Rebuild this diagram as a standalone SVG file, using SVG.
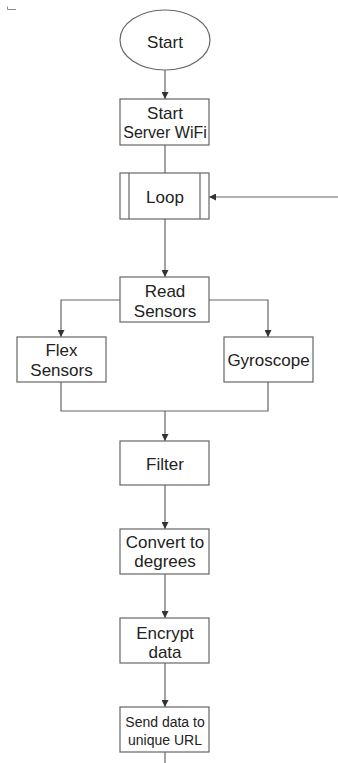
<svg xmlns="http://www.w3.org/2000/svg" width="338" height="763" viewBox="0 0 338 763">
<defs>
<marker id="ah" viewBox="0 0 8 8" refX="8" refY="4" markerWidth="7" markerHeight="7" markerUnits="userSpaceOnUse" orient="auto">
<path d="M0,0 L8,4 L0,8 z" fill="#333"/>
</marker>
<style>
.n{fill:#fff;stroke:#666;stroke-width:1.2}
.t{font-family:"Liberation Sans",Arial,sans-serif;font-size:17px;fill:#222;text-anchor:middle}
.s{font-size:14px}
.c{fill:none;stroke:#666;stroke-width:1.2}
.a{marker-end:url(#ah)}
</style>
</defs>
<rect width="338" height="763" fill="#fff"/>
<path d="M7.5,6.5 V9.5 H16" fill="none" stroke="#888" stroke-width="1"/>
<g id="connectors">
<path class="c a" d="M165,70 V99"/>
<path class="c" d="M165,145 V173"/>
<path class="c a" d="M338,197 H209"/>
<path class="c a" d="M165,219 V277"/>
<path class="c a" d="M120,300 H61 V337"/>
<path class="c a" d="M209,300 H268 V337"/>
<path class="c" d="M61,382 V411 H268 V382"/>
<path class="c a" d="M165,411 V441"/>
<path class="c a" d="M165,485 V529"/>
<path class="c a" d="M165,574 V618"/>
<path class="c a" d="M165,663 V707"/>
<path class="c" d="M165,752 V763"/>
</g>
<g id="start">
<ellipse class="n" cx="165" cy="40" rx="45" ry="30"/>
<text class="t" x="165" y="48">Start</text>
</g>
<g id="wifi">
<rect class="n" x="120" y="99" width="89" height="46"/>
<text class="t" x="165" y="119">Start</text>
<text class="t" x="165" y="138" style="font-size:16px">Server WiFi</text>
</g>
<g id="loop">
<rect class="n" x="120" y="173" width="89" height="46"/>
<path class="c" d="M129,173 V219 M200,173 V219"/>
<text class="t" x="165" y="203">Loop</text>
</g>
<g id="read">
<rect class="n" x="120" y="277" width="89" height="45"/>
<text class="t" x="165" y="297">Read</text>
<text class="t" x="165" y="317">Sensors</text>
</g>
<g id="flex">
<rect class="n" x="17" y="337" width="89" height="45"/>
<text class="t" x="61.5" y="356">Flex</text>
<text class="t" x="61.5" y="376">Sensors</text>
</g>
<g id="gyro">
<rect class="n" x="224" y="337" width="89" height="45"/>
<text class="t" x="268.5" y="366">Gyroscope</text>
</g>
<g id="filter">
<rect class="n" x="120" y="441" width="89" height="44"/>
<text class="t" x="165" y="470">Filter</text>
</g>
<g id="convert">
<rect class="n" x="120" y="529" width="89" height="45"/>
<text class="t" x="165" y="548">Convert to</text>
<text class="t" x="165" y="567">degrees</text>
</g>
<g id="encrypt">
<rect class="n" x="120" y="618" width="89" height="45"/>
<text class="t" x="165" y="639">Encrypt</text>
<text class="t" x="165" y="658">data</text>
</g>
<g id="send">
<rect class="n" x="120" y="707" width="89" height="45"/>
<text class="t s" x="165" y="727">Send data to</text>
<text class="t s" x="165" y="745">unique URL</text>
</g>
</svg>
